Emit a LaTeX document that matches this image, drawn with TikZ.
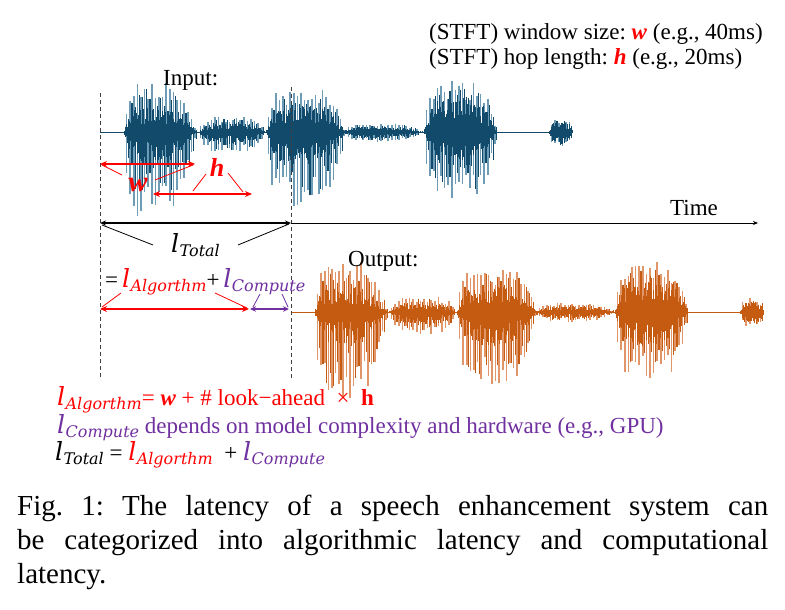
\documentclass[tikz,border=0pt]{standalone}
\usepackage{fontspec}
\setmainfont{Liberation Serif}
\newfontfamily\lfontfam{DejaVu Serif}
\newcommand\lfont{\lfontfam\itshape}
\usetikzlibrary{arrows.meta}
\frenchspacing
\definecolor{inblue}{RGB}{17,74,107}
\definecolor{inlight}{RGB}{110,155,182}
\definecolor{outor}{RGB}{197,90,17}
\definecolor{outlight}{RGB}{225,150,105}
\definecolor{myred}{RGB}{255,0,0}
\definecolor{mypurple}{RGB}{112,48,160}
\newcommand\lsym[1]{{\fontsize{25}{25}\selectfont\lfont l}\kern0.5pt\raisebox{-4pt}{\fontsize{16}{16}\selectfont\lfont #1}}
% #1 x0, #2 x1, #3 core up, #4 core down, #5 spike up, #6 spike down, #7 skew
\newcommand\wburst[7]{%
  \pgfmathsetmacro\wLen{#2-#1}%
  \foreach \wT in {0,3.6,...,\wLen}{%
    \pgfmathsetmacro\wG{\wT/\wLen*(1+#7-#7*\wT/\wLen)}%
    \pgfmathsetmacro\wE{max(0,sin(180*\wG))}%
    \pgfmathsetmacro\wF{\wE*(3-3*\wE+\wE*\wE)}%
    \pgfmathsetmacro\wU{#5*\wF*(0.6+0.4*rnd)}%
    \pgfmathsetmacro\wD{#6*\wF*(0.6+0.4*rnd)}%
    \draw[wlight,line width=1.6pt] (#1+\wT,-\wU) -- (#1+\wT,\wD);%
    \pgfmathsetmacro\wU{0.85*#5*\wF*(0.4+0.6*rnd)}%
    \pgfmathsetmacro\wD{0.85*#6*\wF*(0.4+0.6*rnd)}%
    \draw[wcore,line width=1.3pt] (#1+\wT+1.8,-\wU) -- (#1+\wT+1.8,\wD);%
  }%
  \foreach \wT in {0,1.0,...,\wLen}{%
    \pgfmathsetmacro\wG{\wT/\wLen*(1+#7-#7*\wT/\wLen)}%
    \pgfmathsetmacro\wE{max(0,sin(180*\wG))}%
    \pgfmathsetmacro\wF{\wE*(2-\wE)}%
    \pgfmathsetmacro\wU{#3*\wF*(0.3+0.7*rnd)}%
    \pgfmathsetmacro\wD{#4*\wF*(0.3+0.7*rnd)}%
    \draw[wcore,line width=0.9pt] (#1+\wT,-\wU) -- (#1+\wT,\wD);%
  }%
}
\newcommand\speech{%
  \draw[wcore,line width=1pt] (0,0) -- (473,0);
  \wburst{23}{97}{26}{32}{52}{88}{0.6}
  \wburst{97}{165}{9}{13}{16}{22}{0}
  \wburst{165}{245}{28}{34}{45}{75}{0.3}
  \wburst{245}{325}{6}{7}{9}{10}{0.6}
  \wburst{323}{397}{36}{34}{52}{71}{0.2}
  \wburst{448}{473}{11}{13}{14}{15}{0}
}
\begin{document}
\begin{tikzpicture}[x=1pt,y=-1pt,
  vline/.style={black!75,line width=0.8pt,dash pattern=on 4pt off 3pt},
  redarr/.style={myred,line width=1.6pt,{Stealth[length=7pt,width=6pt]}-{Stealth[length=7pt,width=6pt]}},
  purarr/.style={mypurple,line width=1.6pt,{Stealth[length=6pt,width=5.5pt]}-{Stealth[length=6pt,width=5.5pt]}},
  ptr/.style={line width=0.8pt},
  lbl/.style={inner sep=0pt,font=\fontsize{23}{26}\selectfont},
  captext/.style={inner sep=0pt,font=\fontsize{29}{34}\selectfont}]
\useasboundingbox (0,0) rectangle (785,610);
\fill[white] (0,0) rectangle (785,610);
% waveforms
\pgfmathsetseed{11}
\begin{scope}[shift={(100,132)}]
  \colorlet{wcore}{inblue}\colorlet{wlight}{inlight}
  \speech
\end{scope}
\pgfmathsetseed{23}
\begin{scope}[shift={(291,312)}]
  \colorlet{wcore}{outor}\colorlet{wlight}{outlight}
  \speech
\end{scope}
% dashed guides
\coordinate (d0t) at (100,93); \coordinate (d0b) at (100,380);
\coordinate (d1t) at (291,87); \coordinate (d1b) at (291,380);
\draw[vline] (d0t) -- (d0b);
\draw[vline] (d1t) -- (d1b);
% texts
\node[lbl,anchor=base west] (stft1) at (429,40) {(STFT) window size: \textcolor{myred}{\textbf{\textit{w}}} (e.g., 40ms)};
\node[lbl,anchor=base west] (stft2) at (429,65) {(STFT) hop length: \textcolor{myred}{\textbf{\textit{h}}} (e.g., 20ms)};
\node[lbl,anchor=base west] (inlbl) at (163,85) {Input:};
\node[lbl,anchor=base west] (outlbl) at (348,266) {Output:};
\node[lbl,anchor=base west] (timelbl) at (670,215) {Time};
% w and h
\node[inner sep=0pt,text=myred,font=\fontsize{29}{29}\selectfont\bfseries\itshape] (wl) at (138,185) {w};
\node[inner sep=0pt,text=myred,font=\fontsize{26}{26}\selectfont\bfseries\itshape] (hl) at (217,167) {h};
\coordinate (wA) at (100,164); \coordinate (wB) at (195,164);
\coordinate (hA) at (153,194); \coordinate (hB) at (252,194);
\draw[redarr] (wA) -- (wB);
\draw[redarr] (hA) -- (hB);
\coordinate (wp1) at (122,175); \coordinate (wp2) at (155,180);
\coordinate (wq1) at (102,165); \coordinate (wq2) at (193,165);
\draw[ptr,myred] (wp1) -- (wq1);
\draw[ptr,myred] (wp2) -- (wq2);
\coordinate (hp1) at (206,174); \coordinate (hq1) at (193,191);
\coordinate (hp2) at (228,173); \coordinate (hq2) at (243,192);
\draw[ptr,myred] (hp1) -- (hq1);
\draw[ptr,myred] (hp2) -- (hq2);
% time axis
\coordinate (t0) at (100,223); \coordinate (t1) at (291,223); \coordinate (t2) at (758,223);
\draw[black,line width=1.3pt,{Stealth[length=6pt,width=5pt]}-{Stealth[length=6pt,width=5pt]}] (t0) -- (t1);
\draw[black,line width=0.7pt,-{Stealth[length=5pt,width=4pt]}] (t1) -- (t2);
% l_Total
\node[lbl,anchor=base west] (ltot) at (171,252) {\lsym{Total}};
\coordinate (lp1) at (153,245); \coordinate (lq1) at (102,225);
\coordinate (lp2) at (238,245); \coordinate (lq2) at (289,224);
\draw[ptr] (lp1) -- (lq1);
\draw[ptr] (lp2) -- (lq2);
% = l_Algorthm + l_Compute
\node[lbl,anchor=base west] (eqn) at (105,287) {=\,\textcolor{myred}{\lsym{Algorthm}}+\,\textcolor{mypurple}{\lsym{Compute}}};
\coordinate (a0) at (100,309); \coordinate (a1) at (249,309);
\coordinate (a1p) at (250,309); \coordinate (a2) at (289,309);
\draw[redarr] (a0) -- (a1);
\draw[purarr] (a1p) -- (a2);
\coordinate (rp1) at (121,293); \coordinate (rq1) at (102,307);
\coordinate (rp2) at (215,293); \coordinate (rq2) at (247,308);
\draw[ptr,myred] (rp1) -- (rq1);
\draw[ptr,myred] (rp2) -- (rq2);
\coordinate (pp1) at (260,294); \coordinate (pq1) at (253,307);
\coordinate (pp2) at (282,294); \coordinate (pq2) at (288,307);
\draw[ptr,mypurple] (pp1) -- (pq1);
\draw[ptr,mypurple] (pp2) -- (pq2);
% bottom formulas
\node[lbl,anchor=base west,text=myred] (f1) at (57,405) {\lsym{Algorthm}= \textbf{\textit{w}} + \# look−ahead ~×~ \textbf{h}};
\node[lbl,anchor=base west,text=mypurple] (f2) at (57,433) {\lsym{Compute} depends on model complexity and hardware (e.g., GPU)};
\node[lbl,anchor=base west] (f3) at (55,460) {\lsym{Total} = \textcolor{myred}{\lsym{Algorthm}} ~+ \textcolor{mypurple}{\lsym{Compute}}};
% caption
\node[captext,anchor=base west] (c1) at (17,515) {\makebox[751pt][s]{Fig. 1: The latency of a speech enhancement system can}};
\node[captext,anchor=base west] (c2) at (17,549) {\makebox[751pt][s]{be categorized into algorithmic latency and computational}};
\node[captext,anchor=base west] (c3) at (17,583) {latency.};
\end{tikzpicture}
\end{document}
